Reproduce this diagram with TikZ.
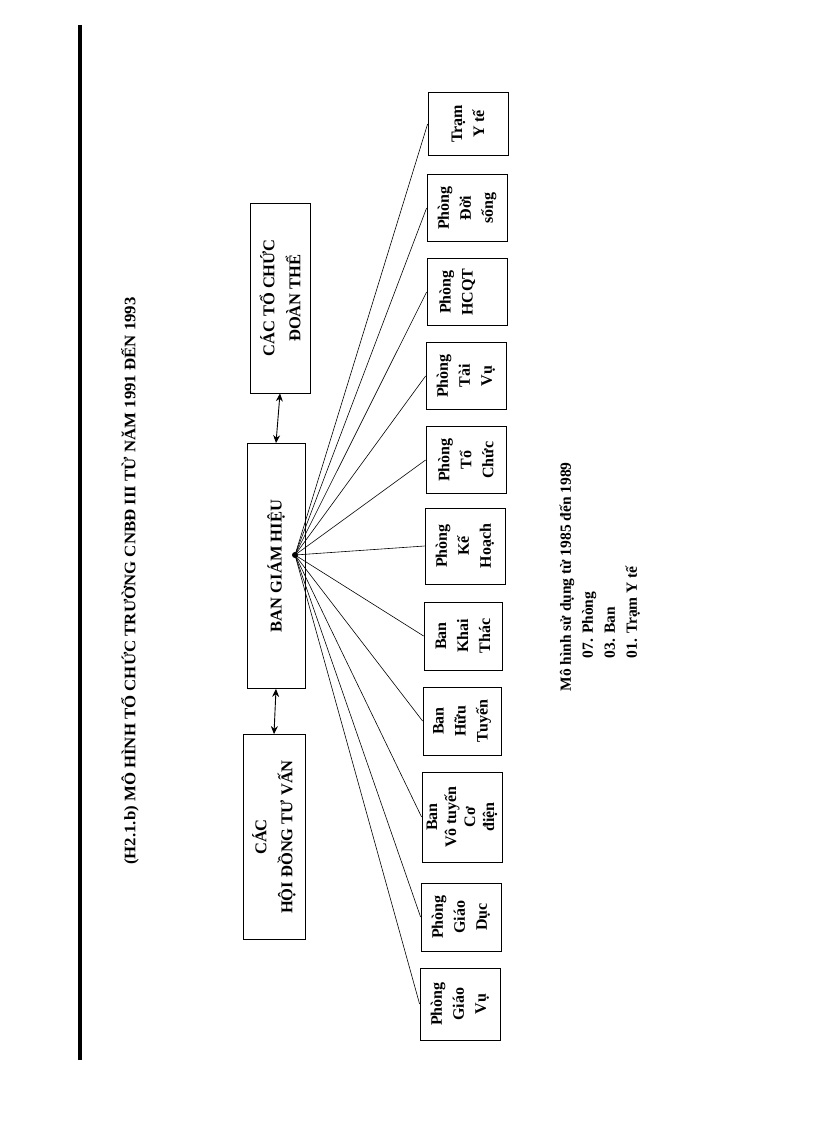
\documentclass[tikz,border=0pt]{standalone}
\usepackage{fontspec}
\setmainfont{Liberation Serif}
\usetikzlibrary{arrows.meta}
\begin{document}
\begin{tikzpicture}[x=1pt,y=-1pt,
  bx/.style={draw,line width=0.8pt,rotate=90,inner sep=1pt,align=center,font=\bfseries\fontsize{16}{22}\selectfont},
  hd/.style={draw,line width=0.8pt,rotate=90,inner sep=2pt,align=center,font=\bfseries\fontsize{16.5}{26}\selectfont},
  ln/.style={line width=0.6pt},
  dbl/.style={line width=0.9pt,{Stealth[length=8pt,width=7pt]}-{Stealth[length=8pt,width=7pt]}}]
\useasboundingbox (0,0) rectangle (816,1123);
\draw[line width=4pt] (80,25) -- (80,1060);
\node[rotate=90,font=\bfseries\fontsize{16}{18}\selectfont,xscale=1.05] (title) at (130,581) {(H2.1.b) MÔ HÌNH TỔ CHỨC TRƯỜNG CNBĐ III TỪ NĂM 1991 ĐẾN 1993};
\node[hd,minimum width=205,minimum height=62] (hd) at (274,837) {CÁC\\HỘI ĐỒNG TƯ VẤN};
\node[hd,minimum width=245,minimum height=58] (bgh) at (276,566) {BAN GIÁM HIỆU};
\node[hd,minimum width=190,minimum height=60] (dt) at (280,298) {CÁC TỔ CHỨC\\ĐOÀN THỂ};
\draw[dbl] (hd.east) -- (bgh.west);
\draw[dbl] (bgh.east) -- (dt.west);
\coordinate (hub) at (295,555);
\fill (hub) circle (3pt);
\node[bx,minimum width=72,minimum height=80] (b1) at (460,1004) {Phòng\\Giáo\\Vụ};
\node[bx,minimum width=68,minimum height=80] (b2) at (461,917) {Phòng\\Giáo\\Dục};
\node[bx,minimum width=90,minimum height=80,font=\bfseries\fontsize{16}{19}\selectfont] (b3) at (462,817) {Ban\\Vô tuyến\\Cơ\\điện};
\node[bx,minimum width=68,minimum height=78] (b4) at (462,721) {Ban\\Hữu\\Tuyến};
\node[bx,minimum width=68,minimum height=78] (b5) at (463,636) {Ban\\Khai\\Thác};
\node[bx,minimum width=76,minimum height=80] (b6) at (465,546) {Phòng\\Kế\\Hoạch};
\node[bx,minimum width=67,minimum height=80] (b7) at (466,460) {Phòng\\Tổ\\Chức};
\node[bx,minimum width=67,minimum height=80] (b8) at (466,376) {Phòng\\Tài\\Vụ};
\node[bx,minimum width=67,minimum height=80] (b9) at (467,292) {Phòng\\HCQT\\\mbox{}};
\node[bx,minimum width=67,minimum height=80] (b10) at (467,208) {Phòng\\Đời\\sống};
\node[bx,minimum width=63,minimum height=80] (b11) at (468,124) {Trạm\\Y tế};
\foreach \b in {b1,b2,b3,b4,b5,b6,b7,b8,b9,b10,b11} \draw[ln] (hub) -- (\b.north);
\node[rotate=90,anchor=north west,align=left,font=\bfseries\fontsize{15.5}{22}\selectfont] (note) at (556,695) {Mô hình sử dụng từ 1985 đến 1989\\\hspace*{33pt}07. Phòng\\\hspace*{33pt}03. Ban\\\hspace*{33pt}01. Trạm Y tế};
\end{tikzpicture}
\end{document}
